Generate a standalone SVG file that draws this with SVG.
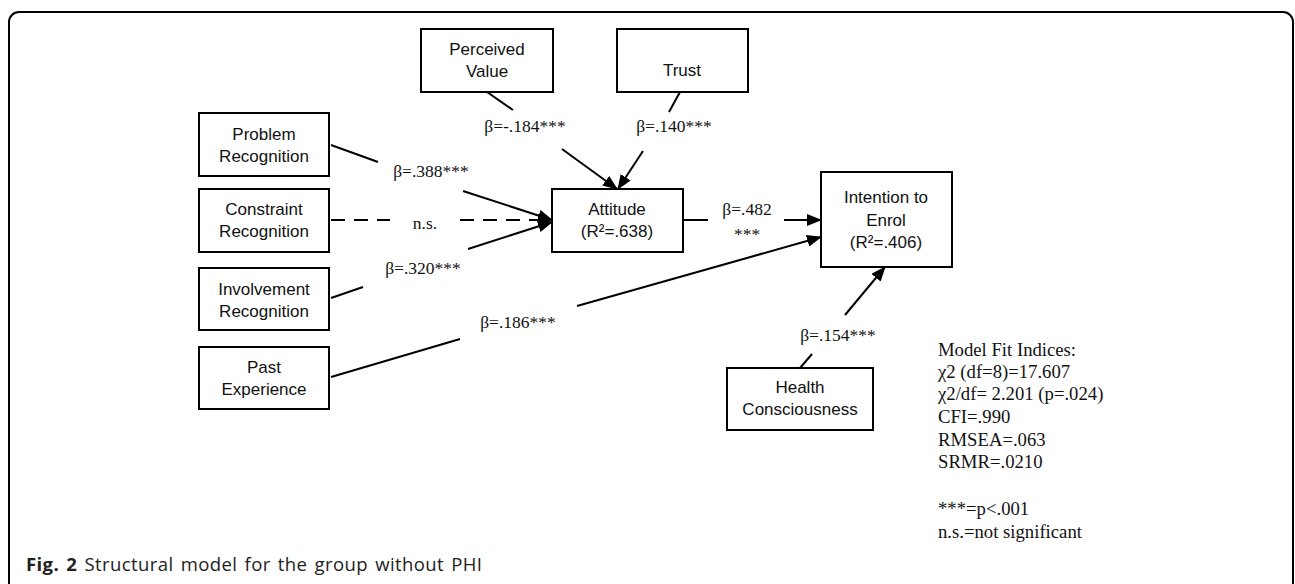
<svg xmlns="http://www.w3.org/2000/svg" width="1295" height="584" viewBox="0 0 1295 584">
<style>
.box{fill:#fff;stroke:#000;stroke-width:2}
.nt{font-family:"Liberation Sans",Arial,sans-serif;font-size:17px;fill:#111;text-anchor:middle}
.lbl{font-family:"Liberation Serif","Times New Roman",serif;font-size:17.5px;fill:#111;text-anchor:middle}
.fit{font-family:"Liberation Serif","Times New Roman",serif;font-size:18.7px;fill:#111}
.ln{stroke:#000;stroke-width:2;fill:none}
.dash{stroke-dasharray:14,9}
.cap{font-family:"Open Sans","Noto Sans",sans-serif;font-size:18.5px;letter-spacing:0.4px;word-spacing:2px;fill:#222}
</style>
<defs>
<marker id="ah" markerUnits="userSpaceOnUse" markerWidth="15" markerHeight="12" refX="14" refY="6" orient="auto">
<path d="M0,0 L15,6 L0,12 z" fill="#000"/>
</marker>
</defs>
<rect width="1295" height="584" fill="#fff"/>
<path d="M9,584 V22 A10,10 0 0 1 19,12 H1283 A10,10 0 0 1 1293,22 V584" fill="none" stroke="#000" stroke-width="2"/>

<g id="connectors">
<line class="ln" x1="487" y1="92" x2="513" y2="110"/>
<line class="ln" x1="562" y1="149" x2="617" y2="189" marker-end="url(#ah)"/>
<line class="ln" x1="680" y1="92" x2="669" y2="112"/>
<line class="ln" x1="643" y1="151" x2="618" y2="189" marker-end="url(#ah)"/>
<line class="ln" x1="331" y1="145" x2="378" y2="162"/>
<line class="ln" x1="463" y1="191" x2="552" y2="220" marker-end="url(#ah)"/>
<line class="ln dash" x1="331" y1="220" x2="390" y2="220"/>
<line class="ln dash" x1="460" y1="220" x2="552" y2="220" marker-end="url(#ah)"/>
<line class="ln" x1="331" y1="298" x2="363" y2="287"/>
<line class="ln" x1="468" y1="249" x2="552" y2="222" marker-end="url(#ah)"/>
<line class="ln" x1="331" y1="377" x2="460" y2="339"/>
<line class="ln" x1="577" y1="306" x2="821" y2="237" marker-end="url(#ah)"/>
<line class="ln" x1="683" y1="220" x2="708" y2="220"/>
<line class="ln" x1="784" y1="220" x2="821" y2="220" marker-end="url(#ah)"/>
<line class="ln" x1="800" y1="368" x2="812" y2="354"/>
<line class="ln" x1="845" y1="315" x2="885" y2="267" marker-end="url(#ah)"/>
<text class="lbl" x="525" y="132">β=-.184***</text>
<text class="lbl" x="674" y="132">β=.140***</text>
<text class="lbl" x="431" y="177">β=.388***</text>
<text class="lbl" x="425" y="229">n.s.</text>
<text class="lbl" x="423" y="274">β=.320***</text>
<text class="lbl" x="518" y="328">β=.186***</text>
<text class="lbl" x="747" y="215">β=.482</text>
<text class="lbl" x="747" y="240">***</text>
<text class="lbl" x="838" y="341">β=.154***</text>
</g>

<g id="perceived-value">
<rect class="box" x="421" y="29" width="132" height="63"/>
<text class="nt" x="487" y="55">Perceived</text>
<text class="nt" x="487" y="77">Value</text>
</g>
<g id="trust">
<rect class="box" x="617" y="29" width="131" height="63"/>
<text class="nt" x="682" y="76">Trust</text>
</g>
<g id="problem-recognition">
<rect class="box" x="199" y="113" width="130" height="63"/>
<text class="nt" x="264" y="140">Problem</text>
<text class="nt" x="264" y="162">Recognition</text>
</g>
<g id="constraint-recognition">
<rect class="box" x="199" y="189" width="130" height="63"/>
<text class="nt" x="264" y="215">Constraint</text>
<text class="nt" x="264" y="237">Recognition</text>
</g>
<g id="involvement-recognition">
<rect class="box" x="199" y="268" width="130" height="62"/>
<text class="nt" x="264" y="295">Involvement</text>
<text class="nt" x="264" y="317">Recognition</text>
</g>
<g id="past-experience">
<rect class="box" x="199" y="347" width="130" height="62"/>
<text class="nt" x="264" y="373">Past</text>
<text class="nt" x="264" y="395">Experience</text>
</g>
<g id="attitude">
<rect class="box" x="552" y="189" width="131" height="63"/>
<text class="nt" x="617" y="215">Attitude</text>
<text class="nt" x="617" y="237">(R²=.638)</text>
</g>
<g id="intention-to-enrol">
<rect class="box" x="821" y="172" width="131" height="95"/>
<text class="nt" x="886" y="203">Intention to</text>
<text class="nt" x="886" y="226">Enrol</text>
<text class="nt" x="886" y="248">(R²=.406)</text>
</g>
<g id="health-consciousness">
<rect class="box" x="727" y="368" width="146" height="62"/>
<text class="nt" x="800" y="393">Health</text>
<text class="nt" x="800" y="415">Consciousness</text>
</g>

<g id="model-fit">
<text class="fit" x="938" y="356">Model Fit Indices:</text>
<text class="fit" x="938" y="378">χ2 (df=8)=17.607</text>
<text class="fit" x="938" y="400">χ2/df= 2.201 (p=.024)</text>
<text class="fit" x="938" y="423">CFI=.990</text>
<text class="fit" x="938" y="446">RMSEA=.063</text>
<text class="fit" x="938" y="468">SRMR=.0210</text>
<text class="fit" x="938" y="515">***=p&lt;.001</text>
<text class="fit" x="938" y="538">n.s.=not significant</text>
</g>

<text class="cap" x="26" y="571"><tspan font-weight="bold">Fig. 2</tspan> Structural model for the group without PHI</text>
</svg>
